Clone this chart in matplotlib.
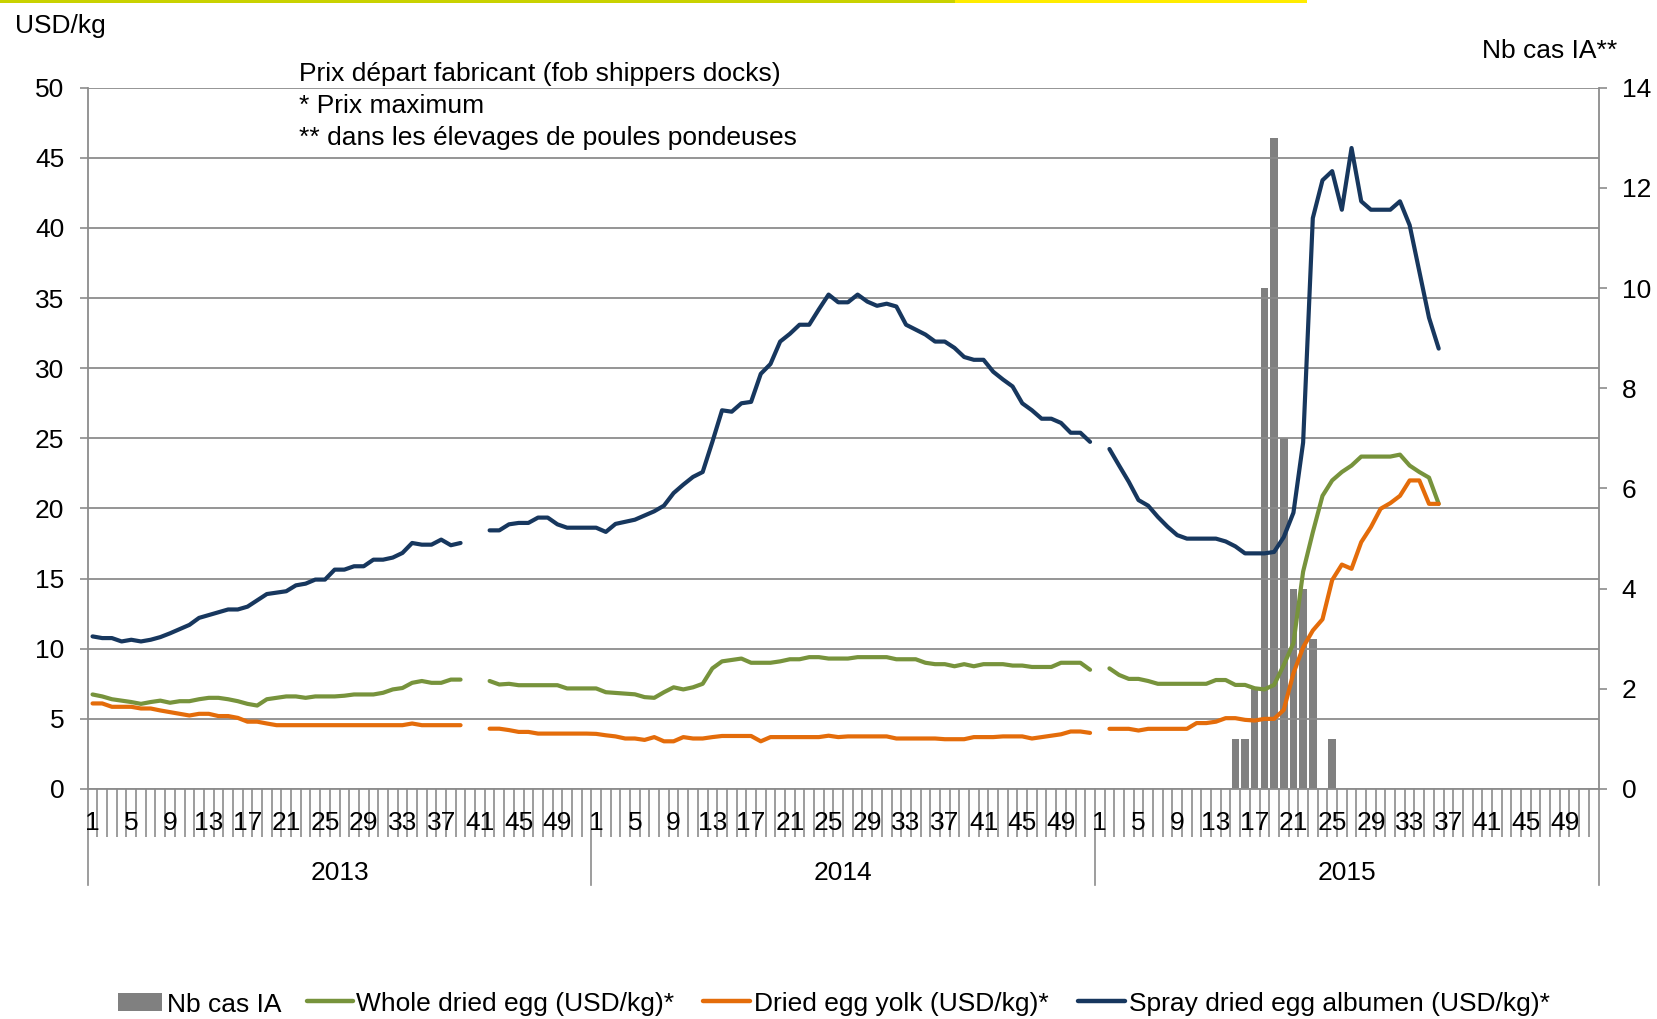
import numpy as np
import matplotlib
matplotlib.use("Agg")
import matplotlib.pyplot as plt
from matplotlib.patches import Rectangle
from matplotlib.lines import Line2D
import matplotlib.transforms as mtransforms

plt.rcParams['font.family'] = ['Liberation Sans', 'DejaVu Sans']

nan = np.nan
years = ["2013", "2014", "2015"]
weeks = list(range(1, 53))
week_labels = [str(w) for w in range(1, 53, 4)]

whole_2013 = [6.74, 6.6, 6.4, 6.3, 6.2, 6.07, 6.2, 6.3, 6.15, 6.26, 6.26, 6.4, 6.5, 6.5, 6.4, 6.26,
              6.07, 5.95, 6.4, 6.5, 6.6, 6.6, 6.5, 6.6, 6.6, 6.6, 6.65, 6.74, 6.74, 6.74, 6.86, 7.1,
              7.2, 7.57, 7.7, 7.57, 7.57, 7.8, 7.8, nan, nan, 7.7, 7.45, 7.5, 7.4, 7.4, 7.4, 7.4,
              7.4, 7.17, 7.17, 7.17]
whole_2014 = [7.17, 6.9, 6.85, 6.8, 6.75, 6.55, 6.5, 6.9, 7.25, 7.1, 7.25, 7.5, 8.6, 9.1, 9.2, 9.3,
              9.0, 9.0, 9.0, 9.1, 9.25, 9.25, 9.4, 9.4, 9.3, 9.3, 9.3, 9.4, 9.4, 9.4, 9.4, 9.25,
              9.25, 9.25, 9.0, 8.9, 8.9, 8.75, 8.9, 8.75, 8.9, 8.9, 8.9, 8.8, 8.8, 8.7, 8.7, 8.7,
              9.0, 9.0, 9.0, 8.5]
whole_2015 = [nan, 8.6, 8.13, 7.85, 7.85, 7.7, 7.5, 7.5, 7.5, 7.5, 7.5, 7.5, 7.77, 7.77, 7.42, 7.42,
              7.18, 7.1, 7.42, 8.84, 10.4, 15.5, 18.3, 20.9, 22.0, 22.6, 23.06, 23.7, 23.7, 23.7, 23.7, 23.84,
              23.06, 22.6, 22.2, 20.33] + [nan] * 16

yolk_2013 = [6.1, 6.1, 5.86, 5.86, 5.86, 5.74, 5.74, 5.6, 5.48, 5.36, 5.24, 5.36, 5.36, 5.2, 5.2, 5.07,
             4.8, 4.8, 4.67, 4.55, 4.55, 4.55, 4.55, 4.55, 4.55, 4.55, 4.55, 4.55, 4.55, 4.55, 4.55, 4.55,
             4.55, 4.67, 4.55, 4.55, 4.55, 4.55, 4.55, nan, nan, 4.3, 4.3, 4.2, 4.07, 4.07, 3.95, 3.95,
             3.95, 3.95, 3.95, 3.95]
yolk_2014 = [3.93, 3.83, 3.75, 3.6, 3.6, 3.5, 3.7, 3.4, 3.4, 3.7, 3.6, 3.6, 3.7, 3.78, 3.78, 3.78,
             3.78, 3.4, 3.7, 3.7, 3.7, 3.7, 3.7, 3.7, 3.8, 3.7, 3.75, 3.75, 3.75, 3.75, 3.75, 3.6,
             3.6, 3.6, 3.6, 3.6, 3.55, 3.55, 3.55, 3.7, 3.7, 3.7, 3.75, 3.75, 3.75, 3.6, 3.7, 3.8,
             3.9, 4.1, 4.1, 4.0]
yolk_2015 = [nan, 4.29, 4.29, 4.29, 4.17, 4.29, 4.29, 4.29, 4.29, 4.29, 4.7, 4.7, 4.8, 5.05, 5.05, 4.93,
             4.88, 5.0, 5.0, 5.64, 8.25, 10.1, 11.3, 12.1, 14.9, 16.0, 15.7, 17.6, 18.67, 19.98, 20.38, 20.9,
             22.0, 22.0, 20.33, 20.33] + [nan] * 16

albumen_2013 = [10.88, 10.76, 10.76, 10.52, 10.64, 10.52, 10.64, 10.83, 11.1, 11.4, 11.7, 12.2, 12.4, 12.6, 12.8, 12.8,
                13.0, 13.45, 13.9, 14.0, 14.1, 14.52, 14.64, 14.93, 14.93, 15.64, 15.64, 15.88, 15.88, 16.35, 16.35, 16.5,
                16.83, 17.54, 17.42, 17.42, 17.78, 17.38, 17.54, nan, nan, 18.44, 18.44, 18.87, 18.97, 18.97, 19.35, 19.35,
                18.87, 18.63, 18.63, 18.63]
albumen_2014 = [18.63, 18.33, 18.9, 19.05, 19.2, 19.5, 19.8, 20.2, 21.1, 21.7, 22.25, 22.6, 24.75, 27.0, 26.9, 27.5,
                27.6, 29.6, 30.3, 31.9, 32.45, 33.1, 33.1, 34.2, 35.25, 34.7, 34.7, 35.25, 34.75, 34.45, 34.6, 34.4,
                33.1, 32.75, 32.4, 31.9, 31.9, 31.45, 30.8, 30.6, 30.6, 29.75, 29.2, 28.7, 27.5, 27.0, 26.4, 26.4,
                26.1, 25.4, 25.4, 24.75]
albumen_2015 = [nan, 24.24, 23.06, 21.9, 20.6, 20.2, 19.4, 18.7, 18.1, 17.85, 17.85, 17.85, 17.85, 17.65, 17.3, 16.8,
                16.8, 16.8, 16.9, 17.96, 19.7, 24.7, 40.7, 43.4, 44.05, 41.3, 45.7, 41.9, 41.3, 41.3, 41.3, 41.9,
                40.2, 36.9, 33.6, 31.4] + [nan] * 16

cases_2013 = [0] * 52
cases_2014 = [0] * 52
cases_2015 = [0] * 14 + [1, 1, 2, 10, 13, 7, 4, 4, 3, 0, 1] + [0] * 27

whole = np.array(whole_2013 + whole_2014 + whole_2015, dtype=float)
yolk = np.array(yolk_2013 + yolk_2014 + yolk_2015, dtype=float)
albumen = np.array(albumen_2013 + albumen_2014 + albumen_2015, dtype=float)
cases = np.array(cases_2013 + cases_2014 + cases_2015, dtype=float)
n = len(whole)
x = np.arange(n)

C_GREEN = '#77933C'
C_ORANGE = '#E46C0A'
C_BLUE = '#17375E'
C_BAR = '#808080'
C_GRID = '#8C8C8C'
FS = 19

W, H = 1657, 1019
fig = plt.figure(figsize=(W / 100, H / 100), dpi=100)

def fx(px):
    return px / W

def fy(py):
    return 1 - py / H

DY = 2.5  # text vertical nudge (px)

left, right, top, bottom = 87.7, 1598.5, 87.7, 789.0
ax = fig.add_axes([fx(left), fy(bottom), fx(right - left), (bottom - top) / H])
ax2 = ax.twinx()
ax.set_zorder(2)
ax2.set_zorder(1)
ax.patch.set_visible(False)

# bars (right axis)
ax2.bar(x[cases > 0], cases[cases > 0], width=0.78, color=C_BAR, zorder=1)
ax2.set_ylim(0, 14)
ax2.set_yticks(range(0, 15, 2))
ax2.tick_params(axis='y', labelsize=FS, length=5.8, width=1.2, color=C_GRID, pad=11)

# lines (left axis)
kw = dict(lw=3.0, solid_capstyle='round', solid_joinstyle='round', zorder=3)
ax.plot(x, whole, color=C_GREEN, **kw)
ax.plot(x, yolk, color=C_ORANGE, **kw)
ax.plot(x, albumen, color=C_BLUE, **kw)

ax.set_ylim(0, 50)
ax.set_yticks(range(0, 51, 5))
ax.tick_params(axis='y', labelsize=FS, length=5.8, width=1.2, color=C_GRID, pad=11)
ax.yaxis.grid(True, color=C_GRID, lw=1.3, zorder=0)
ax.set_axisbelow(True)
ax.set_xlim(-0.5, n - 0.5)

for a in (ax, ax2):
    for s in a.spines.values():
        s.set_visible(False)
ax.spines['left'].set_visible(True)
ax.spines['left'].set_color(C_GRID)
ax.spines['left'].set_linewidth(1.3)
ax.spines['bottom'].set_visible(True)
ax.spines['bottom'].set_color(C_GRID)
ax.spines['bottom'].set_linewidth(1.3)
ax2.spines['right'].set_visible(True)
ax2.spines['right'].set_color(C_GRID)
ax2.spines['right'].set_linewidth(1.3)

# category x axis
ax.set_xticks([])
boundaries = [i + 0.5 for i in range(n - 1) if (i + 1) % 52 != 0]
ax.set_xticks(boundaries, minor=True)
ax.tick_params(axis='x', which='minor', length=48 * 0.72, width=1.2, color=C_GRID, direction='out')
ax.tick_params(axis='x', which='major', length=0)

trans = mtransforms.blended_transform_factory(ax.transData, ax.transAxes)
ah = bottom - top
for k, yr in enumerate(years):
    for lab in week_labels:
        w = int(lab)
        ax.text(52 * k + w - 1, -(33 + 1.5) / ah, lab, transform=trans, ha='center', va='center',
                fontsize=FS, clip_on=False)
    ax.text(52 * k + 25.5, -(81 + DY) / ah, yr, transform=trans, ha='center', va='center',
            fontsize=FS, clip_on=False)
for k in range(len(years) + 1):
    ax.plot([52 * k - 0.5, 52 * k - 0.5], [0, -96 / ah], transform=trans, color=C_GRID,
            lw=1.2, clip_on=False)

# texts
fig.text(fx(15), fy(23 + DY), 'USD/kg', fontsize=FS, ha='left', va='center')
fig.text(fx(1617), fy(48.6 + DY), 'Nb cas IA**', fontsize=FS, ha='right', va='center')
notes = ['Prix départ fabricant (fob shippers docks)', '* Prix maximum',
         '** dans les élevages de poules pondeuses']
for j, t in enumerate(notes):
    fig.text(fx(299), fy(72 + DY + 31.6 * j), t, fontsize=FS, ha='left', va='center')

# top band
fig.add_artist(Rectangle((0, fy(3)), fx(955), 3 / H, transform=fig.transFigure,
                         color='#C9D200', lw=0))
fig.add_artist(Rectangle((fx(955), fy(3)), fx(1307 - 955), 3 / H, transform=fig.transFigure,
                         color='#FFEC00', lw=0))

# legend (manual)
ly = 1002 + DY
fig.add_artist(Rectangle((fx(118.3), fy(1010.7)), fx(161.7 - 118.3), (1010.7 - 993.3) / H,
                         transform=fig.transFigure, color=C_BAR, lw=0))
fig.text(fx(166.7), fy(ly), 'Nb cas IA', fontsize=FS, ha='left', va='center')
items = [(306.7, 353.3, 355.5, C_GREEN, 'Whole dried egg (USD/kg)*'),
         (703, 750, 753.5, C_ORANGE, 'Dried egg yolk (USD/kg)*'),
         (1078, 1125, 1128.6, C_BLUE, 'Spray dried egg albumen (USD/kg)*')]
for x0, x1, tx, c, lab in items:
    fig.add_artist(Line2D([fx(x0), fx(x1)], [fy(1001), fy(1001)], transform=fig.transFigure,
                          color=c, lw=3.2, solid_capstyle='round'))
    fig.text(fx(tx), fy(ly), lab, fontsize=FS, ha='left', va='center')

fig.savefig('out.png', dpi=100)
